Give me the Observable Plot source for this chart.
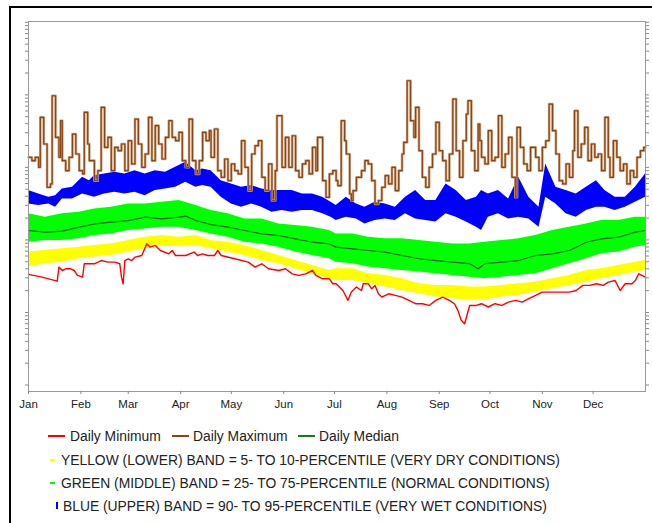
<!DOCTYPE html>
<html>
<head>
<meta charset="utf-8">
<script src="https://cdn.jsdelivr.net/npm/d3@7"></script>
<script src="https://cdn.jsdelivr.net/npm/@observablehq/plot@0.6"></script>
<style>
  body { margin: 0; background: #fff; }
  #wrap { position: relative; width: 652px; height: 523px; overflow: hidden; font-family: Arial, "Liberation Sans", sans-serif; color: #222; }
  #outer { position: absolute; left: 9px; top: 6px; width: 700px; height: 600px; border-left: 2px solid #000; border-top: 2px solid #000; }
  #chart { position: absolute; left: 0; top: 0; }
  .lg { position: absolute; font-size: 13.85px; line-height: 16px; white-space: nowrap; }
  .sw { position: absolute; }
</style>
</head>
<body>
<div id="wrap">
  <div id="outer"></div>
  <div id="chart"></div>
  <div id="legend"></div>
</div>
<script>
// ---- data (day of year, discharge-like values on a log scale) ----
const monthStartDays = [0, 31, 59, 90, 120, 151, 181, 212, 243, 273, 304, 334];
const monthLabels = ["Jan", "Feb", "Mar", "Apr", "May", "Jun", "Jul", "Aug", "Sep", "Oct", "Nov", "Dec"];

const bandDays = [0,10,20,30,39,49,59,69,79,89,99,108,118,128,138,148,158,168,178,182,192,201,211,221,231,241,251,261,270,280,290,300,310,320,330,339,349,359,365];
const greenTop = [229,206,229,241,268,282,314,314,331,349,298,254,229,195,195,166,158,150,135,121,121,109,103.5,103.5,98,93,88,88,93,98,103.5,115,135,150,166,185,185,206,206];
const greenBottom = [93,98,98,103.5,115,121,135,142,150,150,135,121,109,93,88,79.5,68,61,55,49.4,47,42.2,40,37.9,36,34.1,32.4,30.7,29.1,30.7,32.4,34.1,40,47,55,64.3,68,79.5,84];
const yellowTop = [68,71.5,75.4,79.5,84,88,98,109,115,109,115,98,93,84,71.5,61,52,44.5,37.9,40,40,34.1,32.4,29.1,24.9,23.6,23.6,22.4,22.4,23.6,24.9,26.2,29.1,32.4,37.9,40,44.5,49.4,52];
const yellowBottom = [42.2,47,49.4,55,58,61,68,75.4,84,84,84,75.4,68,61,52,47,40,34.1,29.1,27.6,27.6,24.9,22.4,20.1,18.1,16.3,15.5,14.7,14.7,16.3,17.2,19.1,21.2,23.6,26.2,29.1,32.4,36,37.9];

const blueDays = [0,6,12,16,20,26,32,36,39,45,51,57,63,69,75,81,87,93,99,103,108,114,120,126,132,138,144,150,156,162,168,174,179,182,188,194,199,205,211,217,223,229,235,241,247,253,259,265,268,272,278,284,290,296,302,306,312,318,324,330,336,341,347,353,359,365];
const blueTop = [479,431,387,408,505,532,730,657,770,812,856,812,902,812,902,856,1003,1177,902,950,902,657,591,532,561,505,479,479,479,431,431,387,331,298,387,314,282,331,314,282,387,479,349,349,591,479,349,387,479,431,479,367,730,387,282,1115,532,479,431,532,657,479,387,387,532,812];
const blueBottom = [314,298,314,282,367,367,431,408,387,431,454,431,454,408,479,505,532,623,532,561,532,387,314,282,314,282,241,254,241,254,254,229,206,185,206,195,166,185,195,185,229,195,185,176,229,206,176,150,135,206,229,195,206,195,150,387,314,229,206,254,282,282,254,282,331,387];

const medianDays = [0,10,20,30,39,49,59,69,79,89,93,99,108,118,128,138,148,158,168,178,182,192,201,211,221,231,241,251,261,266,270,280,290,300,310,320,330,339,349,359,365];
const medianValues = [134.8,128,132,150,166,176,185,206,195,206,213,185,163,150,135,121,115,103.5,93,88,79.5,75.4,71.5,67.8,61,55,52,49.4,47,40,47,49.4,52,61,64.3,71.5,93,103.5,109,128,135];

const dailyMinimum = [[0,33.5],[8,30.7],[17,27],[18,42.2],[20,37.9],[22,40],[25,40],[27,37.9],[29,32.4],[32,30.7],[33,46.9],[39,46.9],[43,52],[47,49.4],[51,49.4],[54,46.9],[55,30.7],[56,24.9],[57,52],[59,55],[61,52],[63,57.9],[67,61],[70,88.3],[72,79.5],[75,84],[78,71.5],[83,64.3],[85,71.5],[87,61],[93,61],[98,68],[100,61],[103,64.3],[106,61],[110,61],[112,71.5],[114,61],[122,55],[130,49.4],[134,42.2],[138,46.9],[142,40],[148,37.9],[152,40],[156,34.1],[160,32.4],[164,34.1],[168,37.9],[170,32.4],[174,29.1],[178,29.1],[180,24.9],[182,24.9],[186,20.1],[189,14.7],[191,19.1],[194,22.4],[197,20.1],[198,24.9],[201,24.9],[203,21.2],[205,23.6],[207,18.1],[209,16.3],[213,18.1],[217,17.2],[221,16.3],[225,14.7],[229,13.2],[233,13.2],[237,12.5],[241,14.7],[245,16.3],[249,14.7],[252,13.2],[254,10.7],[256,7.8],[258,7.0],[261,12.5],[265,12.5],[268,13.2],[272,11.9],[276,13.2],[280,12.5],[284,13.9],[288,14.7],[292,13.9],[296,15.5],[300,17.2],[304,19.1],[312,19.1],[320,19.1],[324,20.1],[328,23.6],[332,23.6],[336,24.9],[340,23.6],[343,26.2],[347,27.6],[350,20.1],[353,24.9],[357,24.9],[359,27.6],[361,34.1],[365,30.7]];

const dailyMaximum = [[0,1377],[2,1239],[4,1377],[6,1003],[7,4890],[9,2100],[11,532],[13,591],[14,9720],[16,2595],[18,1377],[19,4400],[20,1239],[22,902],[24,1377],[26,2880],[28,1530],[30,902],[32,812],[33,5730],[35,2100],[36,1239],[39,657],[41,902],[43,6720],[45,1890],[47,2595],[49,902],[51,1890],[53,1700],[55,2100],[57,902],[59,2335],[61,1115],[63,4640],[65,2100],[67,1003],[69,1530],[71,4890],[73,1239],[75,3760],[77,2100],[79,1306],[81,2595],[83,4400],[85,2595],[87,2335],[89,3040],[91,1239],[93,1003],[95,4640],[97,1239],[99,812],[101,1239],[103,3040],[105,2335],[107,3210],[108,1377],[110,3380],[112,902],[114,730],[116,1306],[118,657],[120,1115],[122,902],[124,812],[126,2335],[128,1003],[130,479],[132,1530],[134,1990],[136,2335],[138,730],[140,479],[142,1115],[144,349],[146,902],[147,5160],[150,1003],[152,2595],[154,1003],[156,2730],[158,902],[160,730],[162,1115],[164,1239],[166,812],[168,1890],[170,902],[171,2595],[174,657],[176,387],[178,812],[180,902],[182,657],[183,561],[185,4400],[187,2335],[188,1530],[190,431],[191,349],[192,479],[194,730],[197,902],[199,1239],[201,1115],[203,657],[205,314],[207,349],[209,532],[211,770],[213,591],[215,1003],[217,479],[219,902],[221,1530],[222,2215],[224,15640],[226,4400],[228,2595],[229,6720],[231,1700],[233,730],[235,532],[237,1003],[239,1530],[241,4180],[243,1700],[245,1239],[247,657],[249,1530],[251,8750],[253,1700],[255,730],[257,2335],[259,5440],[260,8300],[262,1700],[264,902],[266,3960],[267,2335],[268,1377],[270,1115],[272,3210],[274,1239],[276,1377],[278,5160],[280,1003],[282,1530],[284,2595],[286,730],[288,387],[289,3560],[291,1890],[293,1115],[295,902],[297,1890],[300,1377],[302,902],[304,1890],[306,2335],[308,7470],[310,3210],[312,1530],[314,657],[316,591],[318,1115],[320,730],[322,1700],[323,6040],[325,1377],[327,2100],[329,3560],[331,1239],[333,2100],[335,1377],[337,1530],[339,902],[341,4890],[343,1377],[344,730],[346,2335],[348,1377],[350,902],[352,1115],[354,591],[356,902],[358,730],[360,1377],[362,1700],[364,1890],[365,1890]];

// ---- tables built from the arrays ----
const greenBand = bandDays.map((d, i) => ({day: d, lo: greenBottom[i], hi: greenTop[i]}));
const yellowBand = bandDays.map((d, i) => ({day: d, lo: yellowBottom[i], hi: yellowTop[i]}));
const blueBand = blueDays.map((d, i) => ({day: d, lo: blueBottom[i], hi: blueTop[i]}));
const median = medianDays.map((d, i) => ({day: d, v: medianValues[i]}));
const minRows = dailyMinimum.map(([d, v]) => ({day: d, v}));
const maxRows = dailyMaximum.map(([d, v]) => ({day: d, v}));

const yTicks = [];
for (let k = 0; k <= 4; k++) for (let m = 1; m <= 9; m++) yTicks.push(m * Math.pow(10, k));
yTicks.push(100000);

const chart = Plot.plot({
  width: 652,
  height: 415,
  marginLeft: 28,
  marginRight: 7,
  marginTop: 21,
  marginBottom: 24,
  style: {background: "transparent", fontFamily: "Arial, 'Liberation Sans', sans-serif", fontSize: "11.5px", color: "#222"},
  x: {type: "linear", domain: [0, 365], label: null},
  y: {type: "log", domain: [0.814, 102600], label: null},
  marks: [
    Plot.areaY(blueBand, {x: "day", y1: "lo", y2: "hi", fill: "#0000ff"}),
    Plot.areaY(greenBand, {x: "day", y1: "lo", y2: "hi", fill: "#00ff00"}),
    Plot.areaY(yellowBand, {x: "day", y1: "lo", y2: "hi", fill: "#ffff00"}),
    Plot.line(maxRows, {x: "day", y: "v", curve: "step-after", stroke: "#c9a27e", strokeWidth: 2.6}),
    Plot.line(maxRows, {x: "day", y: "v", curve: "step-after", stroke: "#8b4513", strokeWidth: 1.2}),
    Plot.line(median, {x: "day", y: "v", stroke: "#1a5e1a", strokeWidth: 1.2}),
    Plot.line(minRows, {x: "day", y: "v", stroke: "#ff0000", strokeWidth: 1.4}),
    Plot.frame({stroke: "#9a9a9a"}),
    Plot.axisY({anchor: "left", ticks: yTicks, tickSize: 3, tickFormat: () => "", stroke: "#888"}),
    Plot.axisY({anchor: "right", ticks: yTicks, tickSize: 3, tickFormat: () => "", stroke: "#888"}),
    Plot.axisX({ticks: monthStartDays, tickFormat: d => monthLabels[monthStartDays.indexOf(d)], tickSize: 3, tickPadding: 5, stroke: "#888", fill: "#222"})
  ]
});
document.getElementById("chart").appendChild(chart);

// ---- legend ----
const legend = document.getElementById("legend");
function add(html) { legend.insertAdjacentHTML("beforeend", html); }
add('<div class="sw" style="left:48px;top:435px;width:17px;height:1.5px;background:#ff0000"></div>');
add('<div class="lg" style="left:70px;top:428px">Daily Minimum</div>');
add('<div class="sw" style="left:172px;top:435px;width:17px;height:1.5px;background:#8b4513"></div>');
add('<div class="lg" style="left:193px;top:428px">Daily Maximum</div>');
add('<div class="sw" style="left:298px;top:435px;width:17px;height:1.5px;background:#1a7a1a"></div>');
add('<div class="lg" style="left:319px;top:428px">Daily Median</div>');
add('<div class="sw" style="left:50px;top:459px;width:5px;height:2px;background:#ffff00"></div>');
add('<div class="lg" style="left:61px;top:452px">YELLOW (LOWER) BAND = 5- TO 10-PERCENTILE (VERY DRY CONDITIONS)</div>');
add('<div class="sw" style="left:50px;top:482px;width:5px;height:2px;background:#00ff00"></div>');
add('<div class="lg" style="left:61px;top:475px">GREEN (MIDDLE) BAND = 25- TO 75-PERCENTILE (NORMAL CONDITIONS)</div>');
add('<div class="sw" style="left:56px;top:502px;width:2px;height:7px;background:#0000ff"></div>');
add('<div class="lg" style="left:63px;top:498px">BLUE (UPPER) BAND = 90- TO 95-PERCENTILE (VERY WET CONDITIONS)</div>');
</script>
</body>
</html>
